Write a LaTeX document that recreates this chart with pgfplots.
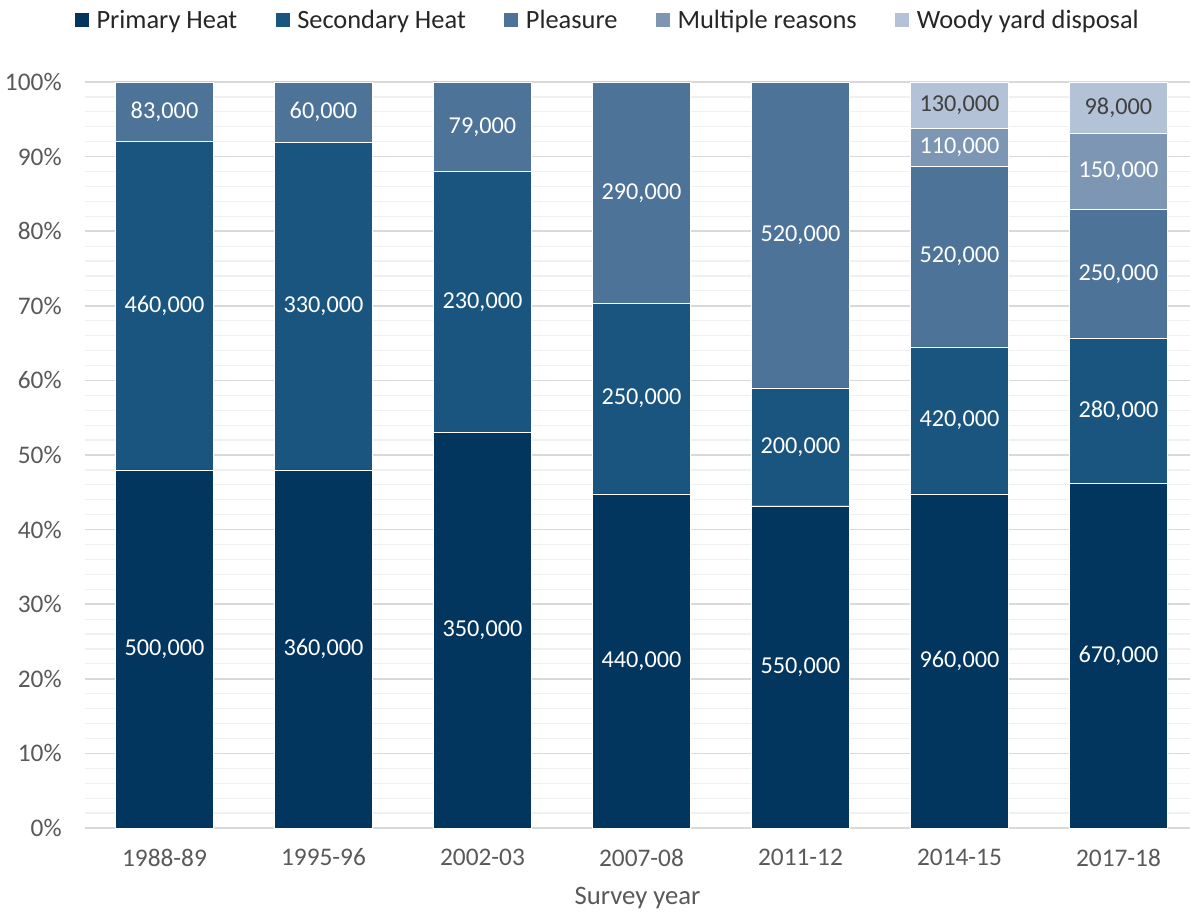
\documentclass[border=0pt]{standalone}
\usepackage{fontspec}
\setmainfont{Carlito}
\usepackage{pgfplots}
\usepackage{pgfplotstable}
\pgfplotsset{compat=1.18}
\definecolor{cP}{HTML}{02365F}
\definecolor{cS}{HTML}{1A557F}
\definecolor{cPl}{HTML}{4D7398}
\definecolor{cM}{HTML}{7C96B4}
\definecolor{cW}{HTML}{B3C2D6}
\definecolor{gMaj}{HTML}{D9D9D9}
\definecolor{gMin}{HTML}{F0F0F0}
\definecolor{tickgray}{HTML}{595959}
\definecolor{lbldark}{HTML}{404040}
\pgfplotstableread{
x p s pl m w lp ls lpl lm lw
0 48.0 44.0 8.0 0 0 500,000 460,000 83,000 {} {}
1 48.0 43.9 8.1 0 0 360,000 330,000 60,000 {} {}
2 53.0 35.0 12.0 0 0 350,000 230,000 79,000 {} {}
3 44.8 25.5 29.7 0 0 440,000 250,000 290,000 {} {}
4 43.2 15.8 41.0 0 0 550,000 200,000 520,000 {} {}
5 44.8 19.7 24.2 5.1 6.2 960,000 420,000 520,000 110,000 130,000
6 46.2 19.4 17.3 10.3 6.8 670,000 280,000 250,000 150,000 98,000
}\data
\begin{document}
\begin{tikzpicture}
\begin{axis}[name=ax, scale only axis, width=828.75pt, height=559.5pt,
  ybar stacked, bar width=0.616,
  xmin=-0.5, xmax=6.45, ymin=0, ymax=100,
  xtick={0,...,6}, xticklabels={1988-89,1995-96,2002-03,2007-08,2011-12,2014-15,2017-18},
  ytick={0,10,...,100}, yticklabels={0\%,10\%,20\%,30\%,40\%,50\%,60\%,70\%,80\%,90\%,100\%},
  minor y tick num=4, ymajorgrids, yminorgrids,
  major grid style={draw=gMaj, line width=1.1pt},
  minor grid style={draw=gMin, line width=0.9pt},
  axis line style={draw=none}, major tick length=0pt, minor tick length=0pt,
  tick label style={font=\fontsize{19}{22}\selectfont, text=tickgray},
  yticklabel style={xshift=-14pt},
  xticklabel style={yshift=-12pt},
  xlabel={Survey year}, xlabel style={font=\fontsize{20}{23}\selectfont, text=tickgray, yshift=-9pt},
  legend columns=5,
  legend style={at={(0.473,1.083)}, anchor=center, draw=none, fill=none,
    font=\fontsize{19.8}{23}\selectfont, text=black!85,
    /tikz/every odd column/.append style={column sep=3.5pt},
    /tikz/every even column/.append style={column sep=26pt}},
  legend image code/.code={\fill[#1] (0pt,-5.6pt) rectangle (11.2pt,5.6pt);},
  nodes near coords, point meta=explicit symbolic,
  every node near coord/.append style={anchor=center, font=\fontsize{18.2}{21}\selectfont},
]
\addplot[fill=cP, draw=white, line width=0.3pt, nodes near coords style={text=white}] table[x=x,y=p,meta=lp]{\data};
\addlegendentry{Primary Heat}
\addplot[fill=cS, draw=white, line width=0.3pt, nodes near coords style={text=white}] table[x=x,y=s,meta=ls]{\data};
\addlegendentry{Secondary Heat}
\addplot[fill=cPl, draw=white, line width=0.3pt, nodes near coords style={text=white}] table[x=x,y=pl,meta=lpl]{\data};
\addlegendentry{Pleasure}
\addplot[fill=cM, draw=white, line width=0.3pt, nodes near coords style={text=white}] table[x=x,y=m,meta=lm]{\data};
\addlegendentry{Multiple reasons}
\addplot[fill=cW, draw=white, line width=0.3pt, nodes near coords style={text=lbldark}] table[x=x,y=w,meta=lw]{\data};
\addlegendentry{Woody yard disposal}
\end{axis}
\pgfresetboundingbox
\path[use as bounding box] ([shift={(-63.75pt,-63.75pt)}]ax.south west) rectangle ([shift={(0pt,61.5pt)}]ax.north east);
\end{tikzpicture}
\end{document}
